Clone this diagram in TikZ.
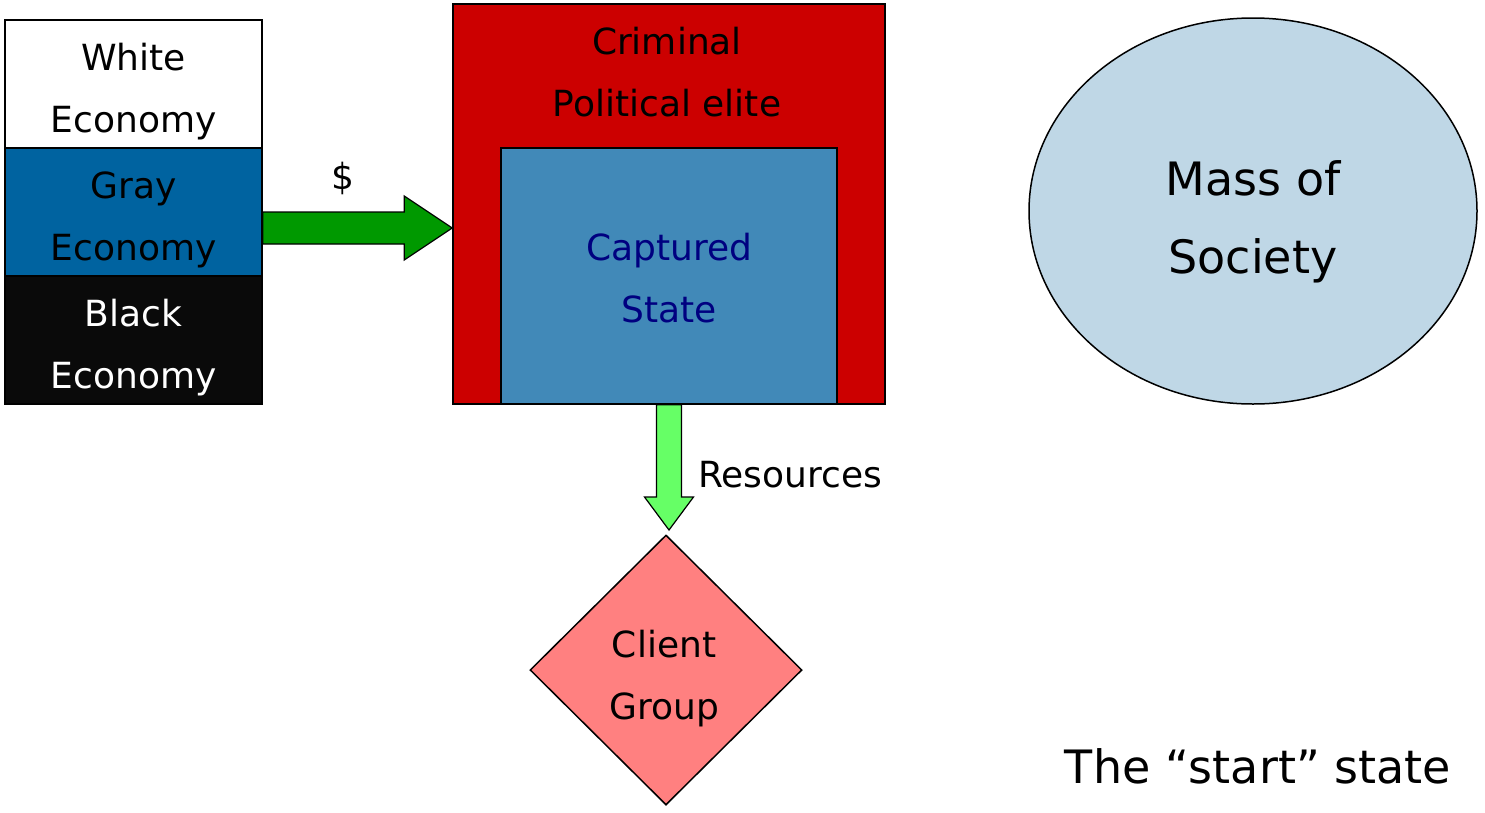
\documentclass[tikz,border=0pt]{standalone}
\usepackage{fontspec}
\setmainfont{DejaVu Sans}
\usetikzlibrary{shapes.geometric,calc}

\definecolor{grayeco}{RGB}{0,99,160}
\definecolor{blackeco}{RGB}{10,10,10}
\definecolor{elitered}{RGB}{204,0,0}
\definecolor{statebl}{RGB}{65,137,184}
\definecolor{statetxt}{RGB}{0,0,128}
\definecolor{moneygr}{RGB}{0,153,0}
\definecolor{resgr}{RGB}{102,255,102}
\definecolor{clientpk}{RGB}{255,128,128}
\definecolor{massbl}{RGB}{191,215,230}

\begin{document}
\begin{tikzpicture}[x=1pt,y=-1pt,
  box/.style={draw=black,line width=1.5pt,rectangle,inner sep=0pt},
  lbl/.style={align=center,inner sep=0pt,font=\fontsize{36}{62}\selectfont},
  biglbl/.style={align=center,inner sep=0pt,font=\fontsize{46}{78}\selectfont},
  blockarrow/.style={draw=black,line width=1.2pt,line join=miter}]
\useasboundingbox (0,0) rectangle (1485,812);

% economy stack
\node[box,fill=white,minimum width=257pt,minimum height=128pt] (white) at (133.5,84) {};
\node[box,fill=grayeco,minimum width=257pt,minimum height=128pt] (gray) at (133.5,212) {};
\node[box,fill=blackeco,minimum width=257pt,minimum height=128pt] (black) at (133.5,340) {};
\node[lbl] (whitetxt) at (133.5,92) {White\\Economy};
\node[lbl] (graytxt) at (133.5,220) {Gray\\Economy};
\node[lbl,text=white] (blacktxt) at (133.5,348) {Black\\Economy};

% elite and the captured state
\node[box,fill=elitered,minimum width=432pt,minimum height=400pt] (elite) at (669,204) {};
\node[box,fill=statebl,minimum width=336pt,minimum height=256pt] (state) at (669,276) {};
\node[lbl] (elitetxt) at (667,72.5) {Criminal\\Political elite};
\node[lbl,text=statetxt] (statetxt) at (669,278) {Captured\\State};

% client group
\node[draw=black,line width=1.5pt,diamond,aspect=1,fill=clientpk,
      minimum width=272pt,minimum height=270pt,inner sep=0pt] (client) at (666,670) {};
\node[lbl] (clienttxt) at (664,679) {Client\\Group};

% mass of society
\node[draw=black,line width=1.5pt,ellipse,fill=massbl,
      minimum width=448pt,minimum height=386pt,inner sep=0pt] (mass) at (1253,211) {};
\node[biglbl] (masstxt) at (1253,221.7) {Mass of\\Society};

% money flow into the elite
\coordinate (moneyFrom) at (gray.east |- 0,228);
\coordinate (moneyTo) at (elite.west |- 0,228);
\draw[blockarrow,fill=moneygr]
  ($(moneyFrom)+(0,-16)$) -- ($(moneyTo)+(-48,-16)$) -- ($(moneyTo)+(-48,-32)$)
  -- (moneyTo) -- ($(moneyTo)+(-48,32)$) -- ($(moneyTo)+(-48,16)$)
  -- ($(moneyFrom)+(0,16)$) -- cycle;
\node[lbl] (dollar) at (343,178) {\$};

% resources to the client group
\coordinate (resFrom) at (state.south);
\coordinate (resTo) at (resFrom |- 0,530);
\draw[blockarrow,fill=resgr]
  ($(resFrom)+(-12.5,0)$) -- ($(resTo)+(-12.5,-33)$) -- ($(resTo)+(-24.5,-33)$)
  -- (resTo) -- ($(resTo)+(24.5,-33)$) -- ($(resTo)+(12.5,-33)$)
  -- ($(resFrom)+(12.5,0)$) -- cycle;
\node[lbl,anchor=west] (restxt) at (698,475) {Resources};

% caption
\node[biglbl] (caption) at (1258,766.3) {The “start” state};
\end{tikzpicture}
\end{document}
